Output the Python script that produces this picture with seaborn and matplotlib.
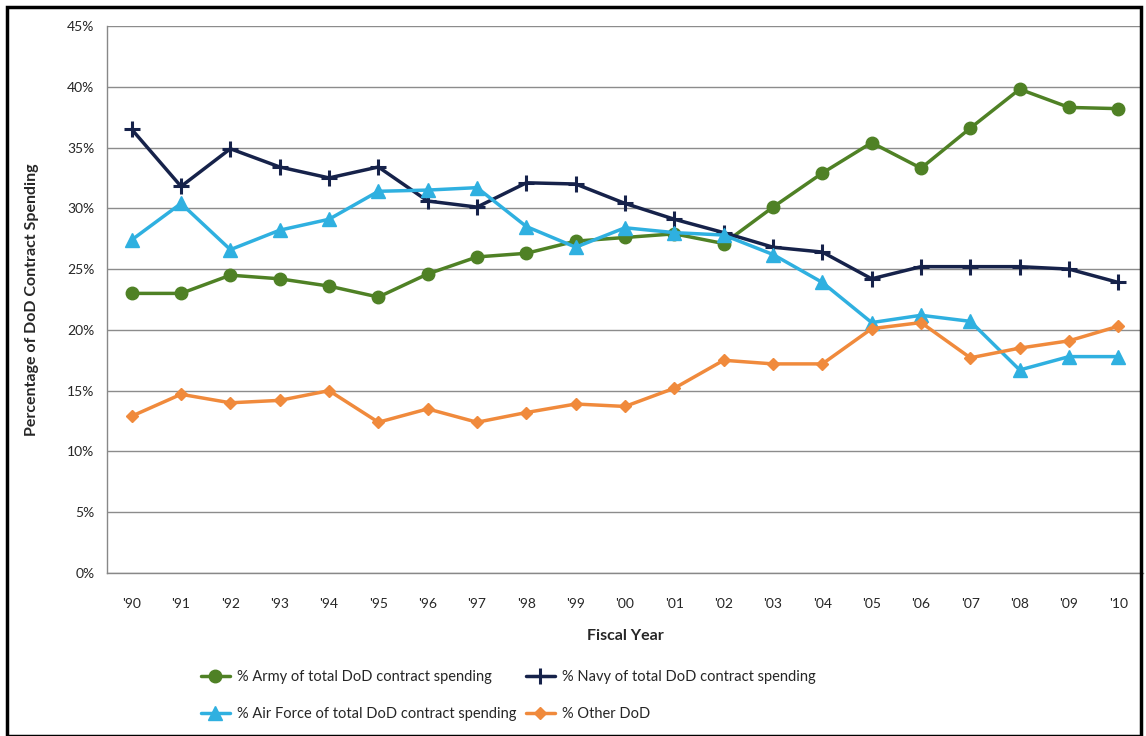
import numpy as np
import pandas as pd
import matplotlib.pyplot as plt
import seaborn as sns
from matplotlib.patches import Rectangle

# Valeurs (% des dépenses contractuelles du DoD)
years = ["'90", "'91", "'92", "'93", "'94", "'95", "'96", "'97", "'98", "'99", "'00",
         "'01", "'02", "'03", "'04", "'05", "'06", "'07", "'08", "'09", "'10"]
army = [23.0, 23.0, 24.5, 24.2, 23.6, 22.7, 24.6, 26.0, 26.3, 27.3, 27.6,
        27.9, 27.1, 30.1, 32.9, 35.4, 33.3, 36.6, 39.8, 38.3, 38.2]
navy = [36.5, 31.8, 34.9, 33.4, 32.5, 33.4, 30.6, 30.1, 32.1, 32.0, 30.4,
        29.1, 28.0, 26.8, 26.4, 24.2, 25.2, 25.2, 25.2, 25.0, 23.9]
air_force = [27.4, 30.4, 26.6, 28.2, 29.1, 31.4, 31.5, 31.7, 28.5, 26.8, 28.4,
             28.0, 27.8, 26.2, 23.9, 20.6, 21.2, 20.7, 16.7, 17.8, 17.8]
other = [12.9, 14.7, 14.0, 14.2, 15.0, 12.4, 13.5, 12.4, 13.2, 13.9, 13.7,
         15.2, 17.5, 17.2, 17.2, 20.1, 20.6, 17.7, 18.5, 19.1, 20.3]

series_names = ['% Army of total DoD contract spending',
                '% Navy of total DoD contract spending',
                '% Air Force of total DoD contract spending',
                '% Other DoD']
series_values = [army, navy, air_force, other]
colors = ['#4f8125', '#16224a', '#2fb0e0', '#f08a3c']
markers = ['o', '+', '^', 'D']
msizes = [9, 12, 10, 6]

sns.set_style('white')
plt.rcParams['font.family'] = ['Lato', 'DejaVu Sans']

fig = plt.figure(figsize=(11.46, 7.36), dpi=100)
ax = fig.add_axes([0.0934, 0.2215, 0.904, 0.7432])

x = np.arange(len(years))
for name, vals, c, m, ms in zip(series_names, series_values, colors, markers, msizes):
    df = pd.DataFrame({'x': x, 'y': vals})
    sns.lineplot(data=df, x='x', y='y', ax=ax, color=c, linewidth=2.5,
                 marker=m, markersize=ms, markeredgecolor=c,
                 markeredgewidth=2.2 if m == '+' else 1, label=name)

ax.set_xlim(-0.5, len(years) - 0.5)
ax.set_ylim(0, 45)
ax.set_yticks(range(0, 46, 5))
ax.set_yticklabels([f'{v}%' for v in range(0, 46, 5)], fontsize=10)
ax.set_xticks(x)
ax.set_xticklabels(years, fontsize=10)
ax.set_xticks(np.arange(-0.5, len(years), 1), minor=True)
ax.tick_params(axis='x', which='major', length=0, pad=18)
ax.tick_params(axis='x', which='minor', length=5, color='#888888', direction='out')
ax.tick_params(axis='y', length=5, color='#888888', direction='out', pad=4)
ax.yaxis.grid(True, color='#8c8c8c', linewidth=1)
ax.set_axisbelow(True)
for s in ['top', 'right']:
    ax.spines[s].set_visible(False)
for s in ['left', 'bottom']:
    ax.spines[s].set_color('#888888')
    ax.spines[s].set_linewidth(1)

ax.set_xlabel('Fiscal Year', fontsize=11.5, fontweight='bold', labelpad=14)
ax.set_ylabel('Percentage of DoD Contract Spending', fontsize=11.5, fontweight='bold', labelpad=20)

# ordre Excel : ligne par ligne
handles, labels = ax.get_legend_handles_labels()
order = [0, 2, 1, 3]
ax.legend([handles[i] for i in order], [labels[i] for i in order],
          loc='upper left', bbox_to_anchor=(195 / 1146, 1 - 664 / 736),
          bbox_transform=fig.transFigure, ncol=2, frameon=False,
          fontsize=10.5, handlelength=2.0, handletextpad=0.5,
          columnspacing=0.6, labelspacing=1.6, borderaxespad=0)

# cadre noir de l'image
fig.patches.append(Rectangle((0.006, 0.0), 0.99, 0.99, transform=fig.transFigure,
                             fill=False, edgecolor='black', linewidth=2.5))

fig.savefig('out.png', dpi=100)
